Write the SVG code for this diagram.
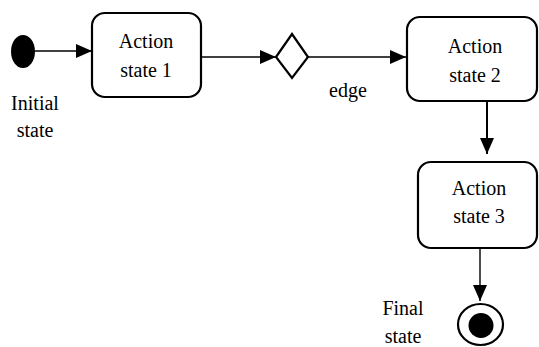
<svg xmlns="http://www.w3.org/2000/svg" width="539" height="347" viewBox="0 0 539 347">
<style>
.box{fill:#fff;stroke:#000;stroke-width:2.2}
text{font-family:'Liberation Serif','Times New Roman',serif;font-size:20px;fill:#000;text-anchor:middle}
.e{fill:none;stroke:#000;stroke-width:1.4}
.e2{fill:none;stroke:#000;stroke-width:2}
</style>
<defs>
<marker id="ah" markerUnits="userSpaceOnUse" markerWidth="16" markerHeight="14" refX="16" refY="7" orient="auto" viewBox="0 0 16 14">
<path d="M0,0 L16,7 L0,14 z" fill="#000"/>
</marker>
</defs>
<rect width="539" height="347" fill="#fff"/>
<g id="connectors">
<line class="e" x1="35" y1="51" x2="92" y2="51" marker-end="url(#ah)"/>
<line class="e" x1="201" y1="57" x2="276" y2="57" marker-end="url(#ah)"/>
<line class="e" x1="308" y1="57" x2="406" y2="57" marker-end="url(#ah)"/>
<line class="e2" x1="487" y1="95" x2="487" y2="154" marker-end="url(#ah)"/>
<line class="e" x1="480" y1="244" x2="480" y2="301" marker-end="url(#ah)"/>
<text x="348" y="97">edge</text>
</g>
<g id="initial">
<ellipse cx="23" cy="51.5" rx="12" ry="16.5" fill="#000"/>
<text x="35" y="110">Initial</text>
<text x="35" y="137">state</text>
</g>
<g id="action1">
<rect class="box" x="92" y="13" width="109" height="84" rx="13"/>
<text x="146" y="48">Action</text>
<text x="146" y="77">state 1</text>
</g>
<g id="decision">
<polygon points="276,57 292,34 308,57 292,78" fill="#fff" stroke="#000" stroke-width="2.2"/>
</g>
<g id="action2">
<rect class="box" x="407" y="17" width="130" height="84" rx="13"/>
<text x="475" y="53">Action</text>
<text x="475" y="82">state 2</text>
</g>
<g id="action3">
<rect class="box" x="418" y="162" width="119" height="86" rx="13"/>
<text x="479" y="195">Action</text>
<text x="479" y="223">state 3</text>
</g>
<g id="final">
<ellipse cx="480.5" cy="324.5" rx="22.5" ry="20.5" fill="#fff" stroke="#000" stroke-width="2.2"/>
<circle cx="481" cy="325.5" r="12.5" fill="#000"/>
<text x="403" y="315">Final</text>
<text x="403" y="343">state</text>
</g>
</svg>
